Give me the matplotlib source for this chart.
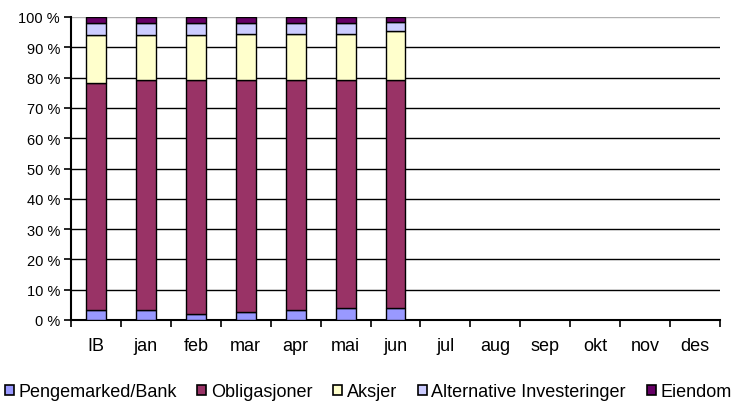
import matplotlib
matplotlib.use("Agg")
import matplotlib.pyplot as plt
from matplotlib.patches import Patch
import numpy as np

plt.rcParams['font.family'] = ['Liberation Sans', 'DejaVu Sans']

# Month labels (only IB..jun have data)
months = ['IB', 'jan', 'feb', 'mar', 'apr', 'mai', 'jun',
          'jul', 'aug', 'sep', 'okt', 'nov', 'des']

# Shares in percent
pengemarked = [3.4, 3.4, 2.0, 2.7, 3.4, 4.0, 4.0]
obligasjoner = [74.9, 75.7, 77.1, 76.4, 75.7, 75.1, 75.1]
aksjer = [15.7, 14.9, 14.9, 15.4, 15.4, 15.4, 16.2]
alternative = [3.9, 3.9, 3.9, 3.4, 3.4, 3.4, 2.9]
eiendom = [2.1, 2.1, 2.1, 2.1, 2.1, 2.1, 1.8]

series = [
    ('Pengemarked/Bank', pengemarked, '#9999FF'),
    ('Obligasjoner', obligasjoner, '#993366'),
    ('Aksjer', aksjer, '#FFFFCC'),
    ('Alternative Investeringer', alternative, '#CCCCFF'),
    ('Eiendom', eiendom, '#660066'),
]

fig = plt.figure(figsize=(7.36, 4.10), dpi=100)
ax = fig.add_axes([71 / 736, 1 - 321 / 410, (720 - 71) / 736, (321 - 18) / 410])

x = np.arange(len(pengemarked))
bottom = np.zeros(len(pengemarked))
handles = []
for name, vals, color in series:
    ax.bar(x, vals, width=0.4, bottom=bottom, color=color,
           edgecolor='black', linewidth=1.0, zorder=3)
    bottom += np.array(vals)
    handles.append(Patch(facecolor=color, edgecolor='black', linewidth=1.2, label=name))

ax.set_xlim(-0.5, len(months) - 0.5)
ax.set_ylim(0, 100)

# gridlines
for v in range(10, 100, 10):
    ax.axhline(v, color='black', linewidth=1.0, zorder=1)
ax.axhline(100, color='#b0b0b0', linewidth=1.0, zorder=1)

ax.set_yticks(range(0, 101, 10))
ax.set_yticklabels([f'{v} %' for v in range(0, 101, 10)], fontsize=10.5)
ax.set_xticks(np.arange(-0.5, len(months), 1.0))
ax.set_xticklabels([])
ax.set_xticks(np.arange(len(months)), minor=True)
ax.set_xticklabels(months, minor=True, fontsize=13)
ax.tick_params(axis='x', which='minor', length=0, pad=12)
ax.tick_params(axis='x', which='major', length=5, width=1.2, direction='out')
ax.tick_params(axis='y', length=5, width=1.2, direction='out', pad=3)

for side in ['top', 'right']:
    ax.spines[side].set_visible(False)
ax.spines['left'].set_linewidth(1.5)
ax.spines['bottom'].set_linewidth(1.5)

fig.legend(handles=handles, loc='center', bbox_to_anchor=(0.5, 1 - 393 / 410),
           ncol=5, frameon=False, fontsize=13, handlelength=0.5,
           handleheight=0.5, handletextpad=0.25, columnspacing=1.15,
           borderpad=0, borderaxespad=0)

fig.savefig('out.png', dpi=100)
